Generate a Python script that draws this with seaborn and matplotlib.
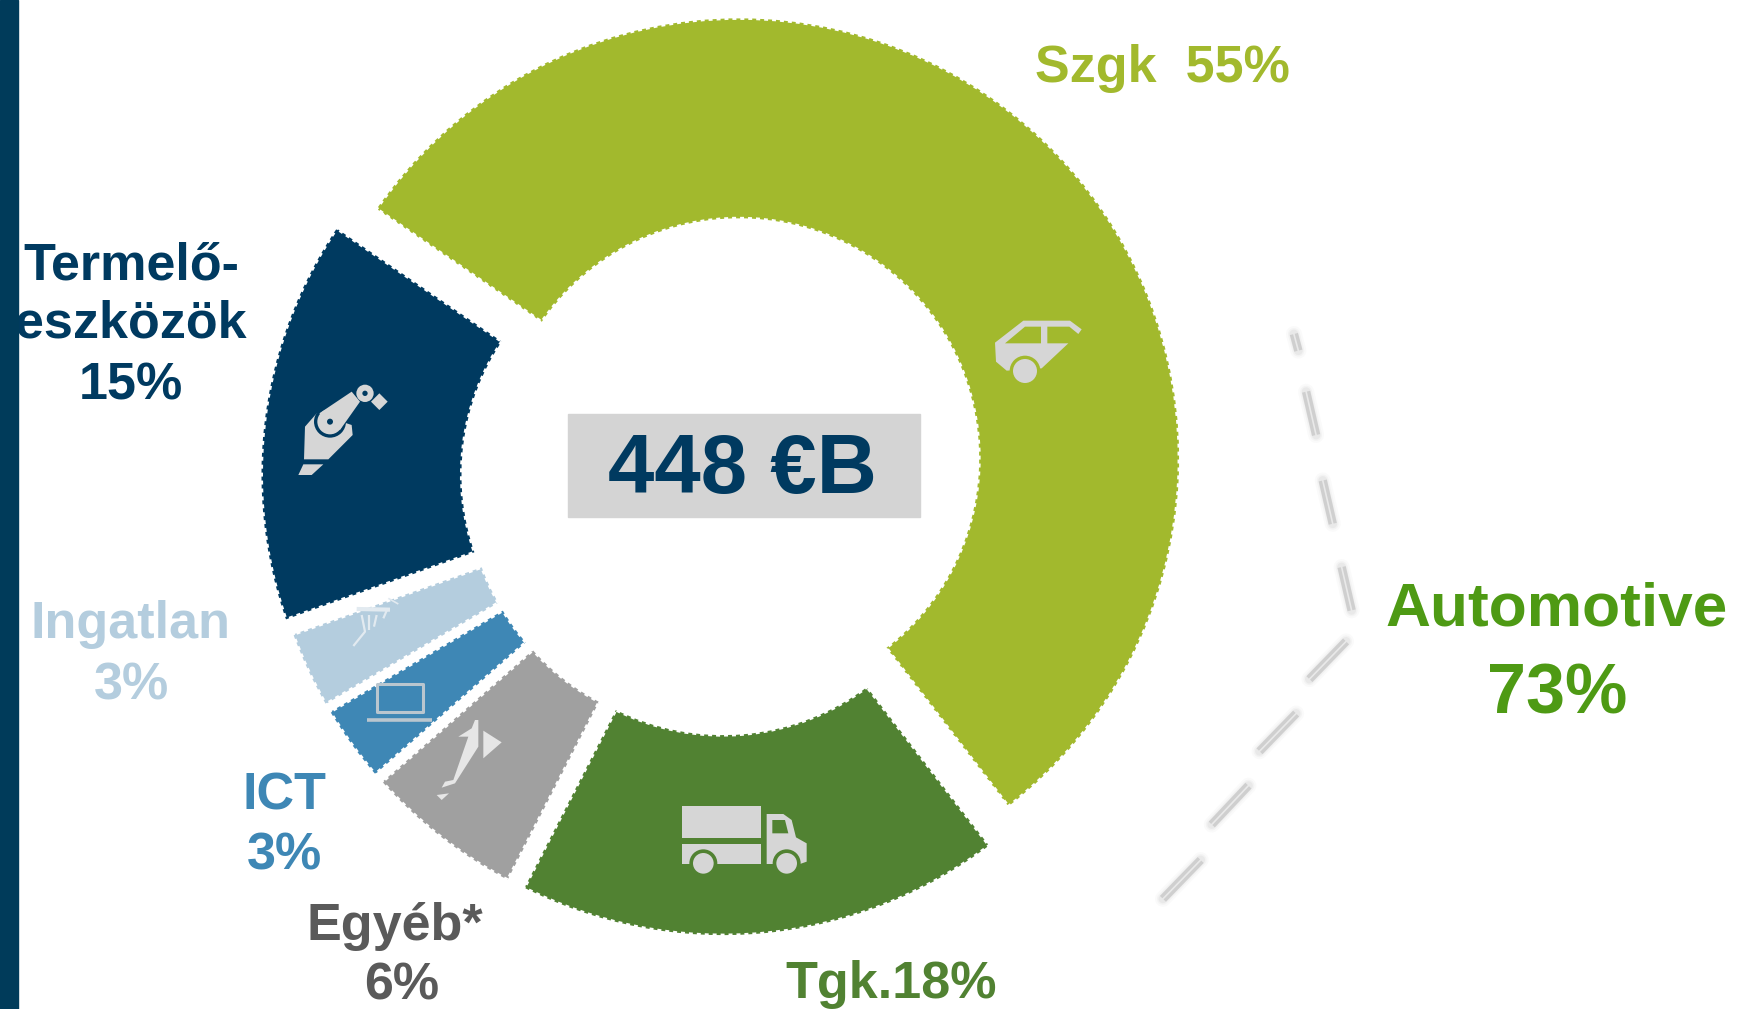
import numpy as np
import matplotlib
matplotlib.use("Agg")
import matplotlib.pyplot as plt
from matplotlib.patches import Polygon, Circle, Rectangle
import seaborn as sns

# ---- data ----
segments = ["Szgk", "Tgk.", "Egyéb*", "ICT", "Ingatlan", "Termelő-eszközök"]
shares = [55, 18, 6, 3, 3, 15]
colors = ["#A2B92D", "#518232", "#A0A0A0", "#3E87B5", "#B4CDDE", "#003A60"]
explode_px = [26, 18, 16, 16, 16, 20]
trim_px = [2, 6, 6, 6, 6, 6]
total_label = "448 €B"
group_label = ["Automotive", "73%"]

W, H = 1740, 1009
sns.set_theme(style="white")
plt.rcParams["font.family"] = ["Liberation Sans", "DejaVu Sans"]
plt.rcParams["font.weight"] = "bold"

fig = plt.figure(figsize=(W / 100, H / 100), dpi=100, facecolor="white")
ax = fig.add_axes([0, 0, 1, 1])

CX, CY, R, r = 721.3, 477.2, 440, 240
START = 145.6
Y = lambda py: H - py

wedges, _ = ax.pie(shares, colors=sns.color_palette(colors), startangle=START, counterclock=False,
                   center=(CX, Y(CY)), radius=R, frame=True, explode=explode_px,
                   wedgeprops=dict(width=R - r, edgecolor="white", linewidth=2.2, linestyle=(0, (1.3, 1.3))))
ax.set_xlim(0, W)
ax.set_ylim(0, H)
ax.set_aspect("equal")
ax.axis("off")

# straight sides of every slice: white trim plus the same dotted edge
for w, trim in zip(wedges, trim_px):
    c = np.array(w.center)
    for ang, side in ((w.theta1, 1), (w.theta2, -1)):
        a = np.radians(ang)
        u = np.array([np.cos(a), np.sin(a)])
        n = np.array([-u[1], u[0]]) * side
        p0, p1 = c + u * (r - 6), c + u * (R + 6)
        ax.plot(*zip(p0, p1), color="white", lw=trim * 0.72, solid_capstyle="butt", zorder=3)
        q0, q1 = p0 + n * trim / 2, p1 + n * trim / 2
        ax.plot(*zip(q0, q1), color="white", lw=2.2, ls=(0, (1.3, 1.3)), zorder=3)

# centre box
ax.add_patch(Rectangle((568, Y(517)), 352, 103, color="#D4D4D4", zorder=4))
ax.text(742, Y(463), total_label, color="#003A60", fontsize=60, ha="center", va="center_baseline", zorder=5)

# labels
def label(x, py, s, color, fs=37.5):
    ax.text(x, Y(py), s, color=color, fontsize=fs, ha="center", va="center_baseline", zorder=6)

label(1162, 63, "Szgk  55%", colors[0])
label(131, 260, "Termelő-", colors[5])
label(131, 319, "eszközök", colors[5])
label(131, 381, "15%", colors[5])
label(131, 619, "Ingatlan", colors[4])
label(131, 680, "3%", colors[4])
label(284, 790, "ICT", colors[3])
label(284, 850, "3%", colors[3])
label(395, 921, "Egyéb*", "#5A5A5A")
label(402, 980, "6%", "#5A5A5A")
label(891, 979, "Tgk.18%", colors[1])
label(1557, 603, group_label[0], "#4E9A14", 44.8)
label(1557, 688, group_label[1], "#4E9A14", 50.5)

# left bar
ax.add_patch(Rectangle((0, 0), 18, H, color="#003B5A", zorder=7))

# grey dashed bracket (read at 1568-wide scale)
K = W / 1568
dashes = [((1166, 301), (1170, 316)), ((1177, 353), (1186, 392)), ((1192, 433), (1201, 472)),
          ((1209, 511), (1218, 550)), ((1180, 612), (1213, 578)), ((1135, 677), (1168, 643)),
          ((1092, 743), (1125, 708)), ((1048, 810), (1082, 775))]
for (a, b) in dashes:
    a, b = np.array(a, float) * K, np.array(b, float) * K
    d = (b - a) / np.linalg.norm(b - a)
    n = np.array([-d[1], d[0]])
    for w, al in ((16, .05), (12, .08), (9, .12)):
        ax.plot([a[0], b[0]], [Y(a[1]), Y(b[1])], color="#A8A8A8", lw=w * .72, alpha=al,
                solid_capstyle="round", zorder=2)
    for s in (-2.5, 2.5):
        ax.plot([a[0] + s * n[0], b[0] + s * n[0]], [Y(a[1] + s * n[1]), Y(b[1] + s * n[1])],
                color="#CFCFCF", lw=2.4, solid_capstyle="butt", zorder=2)

# icons (traced in zoom coordinates: origin + value / 3)
def P(ox, oy, pts):
    return [(ox + x / 3, Y(oy + y / 3)) for x, y in pts]
def poly(ox, oy, pts, c, z=5):
    ax.add_patch(Polygon(P(ox, oy, pts), closed=True, fc=c, ec="none", zorder=z))
def circ(ox, oy, x, y, rad, c, z=5):
    ax.add_patch(Circle(P(ox, oy, [(x, y)])[0], rad / 3, fc=c, ec="none", zorder=z))
def line(ox, oy, pts, c, lw, z=5):
    xy = np.array(P(ox, oy, pts))
    ax.plot(xy[:, 0], xy[:, 1], color=c, lw=lw, solid_capstyle="butt", zorder=z)

ICON = "#D6D6D6"
# truck
o = (640, 760)
poly(*o, [(125, 137), (363, 137), (363, 235), (125, 235)], ICON)
poly(*o, [(125, 252), (363, 252), (363, 312), (125, 312)], ICON)
poly(*o, [(380, 312), (380, 162), (430, 162), (455, 180), (468, 232), (500, 250), (500, 305), (480, 312)], ICON)
poly(*o, [(397, 180), (435, 180), (445, 220), (397, 220)], colors[1], 6)
for x in (190, 440):
    circ(*o, x, 310, 42, colors[1], 6)
    circ(*o, x, 310, 31, ICON, 7)
# car
o = (970, 300)
poly(*o, [(75, 128), (160, 62), (300, 62), (335, 88), (325, 102), (298, 80), (232, 80), (232, 130),
          (295, 130), (215, 205), (110, 212), (78, 185)], ICON)
poly(*o, [(105, 130), (165, 80), (213, 80), (213, 130)], colors[0], 6)
circ(*o, 165, 213, 46, colors[0], 6)
circ(*o, 165, 213, 36, ICON, 7)
# robot
o = (280, 370)
poly(*o, [(55, 315), (70, 283), (130, 283), (95, 315)], ICON)
poly(*o, [(72, 268), (75, 170), (110, 130), (215, 165), (218, 195), (145, 268)], ICON)
circ(*o, 150, 155, 48, colors[5], 6)
poly(*o, [(118, 130), (215, 65), (240, 95), (180, 180)], ICON, 7)
circ(*o, 150, 155, 38, ICON, 7)
circ(*o, 150, 155, 9, colors[5], 8)
circ(*o, 255, 70, 26, ICON, 7)
circ(*o, 255, 70, 8, colors[5], 8)
poly(*o, [(298, 70), (323, 95), (298, 120), (273, 95)], ICON)
# building
o = (250, 520)
bc = "#E2EAF0"
line(*o, [(320, 267), (420, 269)], bc, 3)
line(*o, [(335, 285), (345, 335), (310, 378)], bc, 1.6)
line(*o, [(357, 285), (357, 330)], bc, 1.6)
line(*o, [(380, 285), (372, 320)], bc, 1.6)
line(*o, [(410, 272), (400, 295)], bc, 1.6)
line(*o, [(415, 235), (445, 252)], bc, 1.2)
# laptop
lc = "#B9C6CF"
line(*o, [(382, 492), (520, 492), (520, 575), (382, 575), (382, 490)], lc, 2.2)
line(*o, [(352, 599), (545, 599)], lc, 2.6)
# other (flag)
ec = "#E6E6E6"
poly(*o, [(625, 650), (665, 625), (675, 600), (685, 600), (685, 680), (615, 790), (575, 803), (585, 785),
          (610, 780), (655, 650)], ec)
poly(*o, [(700, 632), (755, 667), (700, 715)], ec)
poly(*o, [(560, 825), (597, 820), (575, 840)], ec)

fig.savefig("out.png", dpi=100, facecolor="white")
